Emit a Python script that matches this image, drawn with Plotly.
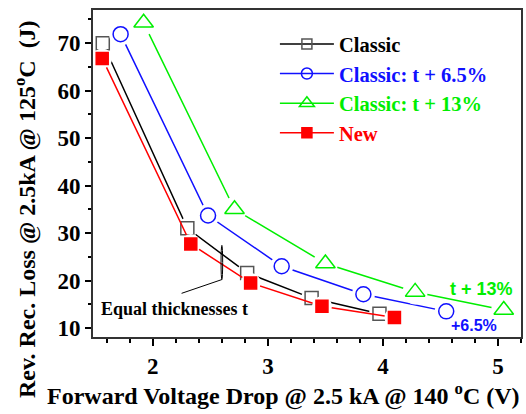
import plotly.graph_objects as go

classic_x = [1.565, 2.30, 2.82, 3.38, 3.97]
classic_y = [70.0, 31.0, 21.6, 16.3, 13.0]
c65_x = [1.72, 2.48, 3.12, 3.83, 4.55]
c65_y = [71.9, 33.7, 23.0, 17.1, 13.5]
c13_x = [1.92, 2.71, 3.50, 4.28, 5.05]
c13_y = [74.3, 35.0, 23.6, 17.6, 13.8]
new_x = [1.56, 2.33, 2.85, 3.47, 4.10]
new_y = [66.8, 27.7, 19.5, 14.6, 12.2]

y_ticks = [10, 20, 30, 40, 50, 60, 70]
x_ticks = [2, 3, 4, 5]

series = [
    ("Classic", classic_x, classic_y, "black", "square-open", 13, "#555555", 10),
    ("Classic: t + 6.5%", c65_x, c65_y, "#1010ff", "circle-open", 15, "#1010ff", 11),
    ("Classic: t + 13%", c13_x, c13_y, "#00ee00", "triangle-up-open", 17, "#00ee00", 13),
    ("New", new_x, new_y, "#ff0000", "square", 12, "#ff0000", 10),
]

SERIF = "Liberation Serif"
fig = go.Figure()
for name, xs, ys, col, sym, sz, mcol, lsz in series:
    fig.add_trace(go.Scatter(
        x=xs, y=ys, mode="lines+markers",
        name=f'<b><span style="color:{col}">{name}</span></b>',
        line=dict(color=col, width=1.5),
        marker=dict(symbol=sym, size=lsz, color=mcol, line=dict(width=1.5, color=mcol)),
    ))
    fig.add_trace(go.Scatter(
        x=xs, y=ys, mode="markers", showlegend=False, hoverinfo="skip",
        marker=dict(symbol="circle", size=sz + 8, color="white", line=dict(width=0)),
    ))
    fig.add_trace(go.Scatter(
        x=xs, y=ys, mode="markers", showlegend=False,
        marker=dict(symbol=sym, size=sz, color=mcol, line=dict(width=1.5, color=mcol)),
    ))

# annotation: equal thicknesses
fig.add_shape(type="circle", xref="x", yref="y", x0=2.593, x1=2.607, y0=20.2, y1=27.4,
              line=dict(color="black", width=1))
fig.add_shape(type="line", xref="x", yref="y", x0=2.25, y0=17.3, x1=2.6, y1=20.2,
              line=dict(color="black", width=1))
fig.add_annotation(x=2.19, y=13.9, xref="x", yref="y", text="<b>Equal thicknesses t</b>",
                   showarrow=False, font=dict(family=SERIF, size=18, color="black"))
fig.add_annotation(x=4.86, y=18.3, xref="x", yref="y", text="<b>t + 13%</b>",
                   showarrow=False, font=dict(family="Liberation Sans", size=18, color="#00ee00"))
fig.add_annotation(x=4.79, y=10.6, xref="x", yref="y", text="<b>+6.5%</b>",
                   showarrow=False, font=dict(family="Liberation Sans", size=16, color="#1010ff"))

# axis titles (positioned as in the reference)
fig.add_annotation(x=0.444, y=-0.177, xref="paper", yref="paper",
                   text="<b>Forward Voltage Drop @ 2.5 kA @ 140 <sup>o</sup>C (V)</b>",
                   showarrow=False, xanchor="center", yanchor="middle",
                   font=dict(family=SERIF, size=24, color="black"))
fig.add_annotation(x=-0.159, y=0.391, xref="paper", yref="paper",
                   text="<b>Rev. Rec. Loss @ 2.5kA @ 125<sup>o</sup>C  (J)</b>",
                   showarrow=False, xanchor="center", yanchor="middle", textangle=-90,
                   font=dict(family=SERIF, size=24, color="black"))

fig.update_layout(
    width=526, height=414,
    margin=dict(l=93, r=5, t=10, b=77),
    plot_bgcolor="white", paper_bgcolor="white",
    font=dict(family=SERIF, size=20, color="black"),
    legend=dict(x=0.425, y=0.957, xanchor="left", yanchor="top",
                font=dict(family=SERIF, size=20.5), bgcolor="rgba(0,0,0,0)",
                itemwidth=54, tracegroupgap=0),
    xaxis=dict(
        range=[1.48, 5.2], tickvals=x_ticks, ticktext=["<b>%d</b>" % v for v in x_ticks],
        ticks="outside", ticklen=7, tickwidth=1.5, tickcolor="black",
        minor=dict(dtick=0.2, tick0=0, ticks="outside", ticklen=4, tickwidth=1.5, tickcolor="black"),
        showline=True, linecolor="#333333", linewidth=2, mirror=True,
        showgrid=False, zeroline=False, automargin=False,
        tickfont=dict(size=23),
    ),
    yaxis=dict(
        range=[8.1, 77], tickvals=y_ticks, ticktext=["<b>%d</b>" % v for v in y_ticks],
        ticks="outside", ticklen=6, tickwidth=1.5, tickcolor="black",
        minor=dict(dtick=5, tick0=0, ticks="outside", ticklen=3, tickwidth=1.5, tickcolor="black"),
        showline=True, linecolor="#333333", linewidth=2, mirror=True,
        showgrid=False, zeroline=False, automargin=False,
        tickfont=dict(size=23),
    ),
)

fig.write_html("out.html", config={"displayModeBar": False},
               post_script="document.body.style.margin='0';")
